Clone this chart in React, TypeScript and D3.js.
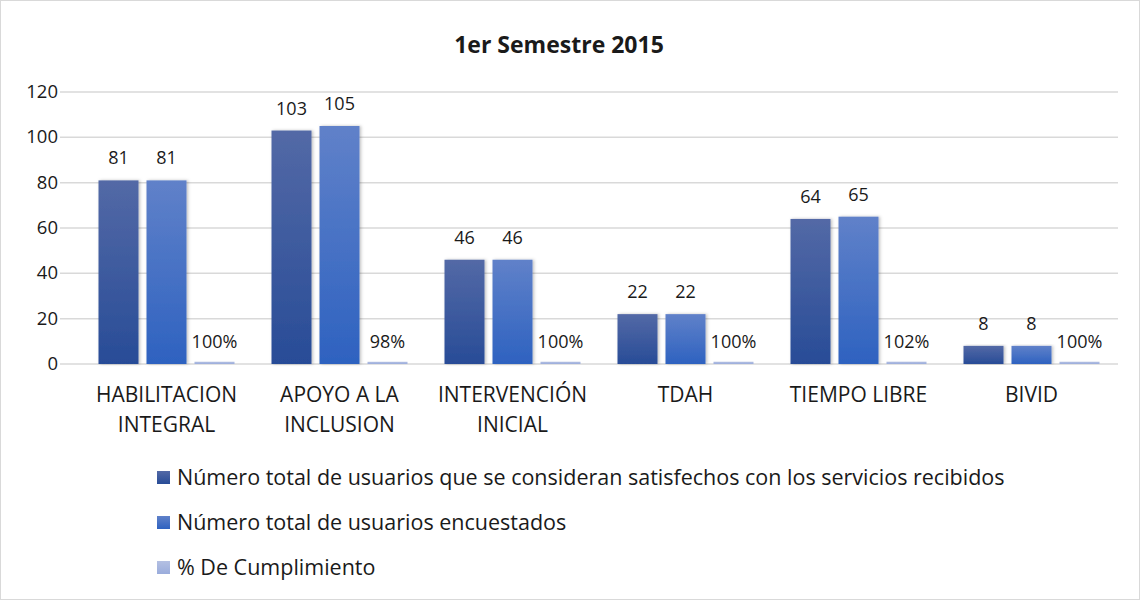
import * as d3 from 'd3';

const categories = [
  ['HABILITACION', 'INTEGRAL'],
  ['APOYO A LA', 'INCLUSION'],
  ['INTERVENCIÓN', 'INICIAL'],
  ['TDAH'],
  ['TIEMPO LIBRE'],
  ['BIVID'],
];
const satisfied = [81, 103, 46, 22, 64, 8];
const surveyed = [81, 105, 46, 22, 65, 8];
const compliance = [1, 0.98, 1, 1, 1.02, 1];
const yTicks = [0, 20, 40, 60, 80, 100, 120];
const seriesNames = [
  'Número total de usuarios que se consideran satisfechos con los servicios recibidos',
  'Número total de usuarios encuestados',
  '% De Cumplimiento',
];

const W = 1141;
const H = 601;
const PLOT = { left: 80, right: 1118, top: 92, bottom: 364 };
const FONT = "'Open Sans', 'Noto Sans', sans-serif";
const fills = ['url(#g1)', 'url(#g2)', 'url(#g3)'];

export default function App() {
  const x = d3
    .scaleBand<number>()
    .domain(d3.range(categories.length))
    .range([PLOT.left, PLOT.right]);
  const y = d3.scaleLinear().domain([0, 120]).range([PLOT.bottom, PLOT.top]);
  const bw = 40;
  const gap = 8;
  const offsets = [-(bw + gap) - bw / 2, -bw / 2, bw / 2 + gap];
  const series = [satisfied, surveyed, compliance];

  return (
    <svg
      width={W}
      height={H}
      style={{ position: 'absolute', left: 0, top: 0, fontFamily: FONT }}
    >
      <defs>
        <linearGradient id="g1" x1="0" y1="0" x2="0" y2="1">
          <stop offset="0" stopColor="#5369a6" />
          <stop offset="1" stopColor="#284c97" />
        </linearGradient>
        <linearGradient id="g2" x1="0" y1="0" x2="0" y2="1">
          <stop offset="0" stopColor="#6081c9" />
          <stop offset="1" stopColor="#2e62c0" />
        </linearGradient>
        <linearGradient id="g3" x1="0" y1="0" x2="0" y2="1">
          <stop offset="0" stopColor="#b4c0e2" />
          <stop offset="1" stopColor="#9aacdc" />
        </linearGradient>
        <filter id="sh" x="-20%" y="-5%" width="140%" height="110%">
          <feDropShadow dx="1.5" dy="0" stdDeviation="1.5" floodColor="#000" floodOpacity="0.25" />
        </filter>
      </defs>
      <rect x={0.5} y={0.5} width={W - 2} height={H - 2} fill="#fff" stroke="#d9d9d9" />
      <text x={559} y={53} textAnchor="middle" fontSize={23} fontWeight="bold" fill="#1a1a1a">
        1er Semestre 2015
      </text>
      {yTicks.map((t) => (
        <g key={t}>
          <line x1={PLOT.left - 20} x2={PLOT.right} y1={y(t)} y2={y(t)} stroke="#d9d9d9" strokeWidth={1.5} />
          <text x={58} y={y(t) + 6} textAnchor="end" fontSize={18.5} fill="#1a1a1a">
            {t}
          </text>
        </g>
      ))}
      {categories.map((cat, i) => {
        const cx = (x(i) as number) + x.bandwidth() / 2;
        return (
          <g key={i}>
            {series.map((vals, s) => {
              const v = vals[i];
              const top = y(v);
              const bx = cx + offsets[s];
              return (
                <g key={s}>
                  <rect
                    x={bx}
                    y={top}
                    width={bw}
                    height={PLOT.bottom - top}
                    fill={fills[s]}
                    filter={s < 2 ? 'url(#sh)' : undefined}
                  />
                  <text
                    x={bx + bw / 2}
                    y={s === 2 ? top - 14 : top - 16}
                    textAnchor="middle"
                    fontSize={18}
                    fill="#1a1a1a"
                  >
                    {s === 2 ? `${Math.round(v * 100)}%` : v}
                  </text>
                </g>
              );
            })}
            {cat.map((line, k) => (
              <text key={k} x={cx} y={402 + k * 30} textAnchor="middle" fontSize={21} fill="#1a1a1a">
                {line}
              </text>
            ))}
          </g>
        );
      })}
      {seriesNames.map((name, s) => (
        <g key={s} transform={`translate(157,${471 + s * 45})`}>
          <rect x={0} y={0} width={13} height={13} fill={fills[s]} />
          <text x={20} y={14} fontSize={21.5} fill="#1a1a1a">
            {name}
          </text>
        </g>
      ))}
    </svg>
  );
}
